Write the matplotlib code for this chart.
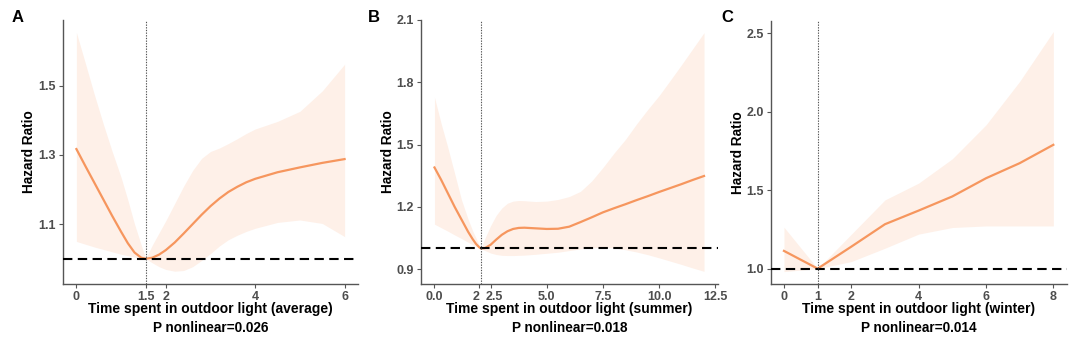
import matplotlib
matplotlib.use('Agg')
from matplotlib import pyplot as plt
from matplotlib.transforms import ScaledTranslation
import numpy as np

plt.rcParams['font.family'] = ['Liberation Sans', 'DejaVu Sans']
plt.rcParams['font.weight'] = 'bold'

# panel A: average outdoor light
a_x = [0, 0.2, 0.4, 0.6, 0.8, 1.0, 1.15, 1.3, 1.45, 1.55, 1.7, 1.85, 2.0, 2.2, 2.4, 2.6, 2.8, 3.0, 3.2, 3.4, 3.6, 3.8, 4.0, 4.5, 5.0, 5.5, 6.0]
a_hr = [1.317, 1.268, 1.22, 1.172, 1.124, 1.078, 1.045, 1.018, 1.003, 1.0, 1.003, 1.012, 1.025, 1.047, 1.073, 1.1, 1.127, 1.152, 1.174, 1.193, 1.208, 1.221, 1.231, 1.25, 1.264, 1.277, 1.288]
a_hi = [1.654, 1.565, 1.475, 1.39, 1.31, 1.235, 1.17, 1.1, 1.04, 1.0, 1.04, 1.075, 1.11, 1.16, 1.21, 1.255, 1.29, 1.31, 1.32, 1.333, 1.347, 1.362, 1.375, 1.397, 1.426, 1.485, 1.562]
a_lo = [1.05, 1.042, 1.034, 1.027, 1.02, 1.013, 1.009, 1.005, 1.002, 1.0, 0.988, 0.977, 0.969, 0.964, 0.966, 0.977, 0.995, 1.015, 1.037, 1.055, 1.068, 1.079, 1.088, 1.105, 1.112, 1.102, 1.064]

# panel B: summer
b_x = [0, 0.3, 0.6, 0.9, 1.2, 1.5, 1.7, 1.85, 2.0, 2.07, 2.25, 2.5, 2.75, 3.0, 3.25, 3.5, 3.75, 4.0, 4.5, 5.0, 5.5, 6.0, 6.5, 7.0, 7.5, 8.0, 8.5, 9.0, 9.5, 10.0, 10.5, 11.0, 11.5, 12.0]
b_hr = [1.39, 1.33, 1.265, 1.2, 1.14, 1.08, 1.045, 1.022, 1.005, 1.0, 1.002, 1.018, 1.043, 1.066, 1.083, 1.094, 1.099, 1.1, 1.097, 1.094, 1.095, 1.105, 1.127, 1.15, 1.174, 1.194, 1.213, 1.233, 1.252, 1.272, 1.291, 1.31, 1.33, 1.349]
b_hi = [1.728, 1.6, 1.484, 1.36, 1.235, 1.14, 1.085, 1.05, 1.015, 1.0, 1.05, 1.11, 1.16, 1.195, 1.218, 1.228, 1.231, 1.23, 1.226, 1.228, 1.236, 1.25, 1.275, 1.325, 1.39, 1.46, 1.525, 1.6, 1.67, 1.736, 1.81, 1.885, 1.962, 2.039]
b_lo = [1.117, 1.1, 1.083, 1.065, 1.048, 1.03, 1.018, 1.01, 1.003, 1.0, 0.99, 0.978, 0.971, 0.967, 0.966, 0.966, 0.967, 0.968, 0.972, 0.977, 0.982, 0.99, 0.998, 1.004, 1.006, 1.002, 0.994, 0.983, 0.97, 0.955, 0.939, 0.923, 0.906, 0.89]

# panel C: winter
c_x = [0, 1, 2, 3, 4, 5, 6, 7, 8]
c_hr = [1.113, 1.0, 1.14, 1.283, 1.37, 1.46, 1.576, 1.672, 1.789]
c_hi = [1.264, 1.0, 1.219, 1.438, 1.545, 1.70, 1.916, 2.193, 2.511]
c_lo = [0.981, 1.0, 1.045, 1.13, 1.22, 1.262, 1.272, 1.272, 1.272]

panels = [
    dict(tag='A', x=a_x, hr=a_hr, hi=a_hi, lo=a_lo, ref=1.55,
         xticks=[0, 1.55, 2, 4, 6], xlabels=['0', '1.5', '2', '4', '6'],
         yticks=[1.1, 1.3, 1.5], ylabels=['1.1', '1.3', '1.5'],
         xlim=(-0.3, 6.3), ylim=(0.927, 1.69), nudge={},
         xlab='Time spent in outdoor light (average)', p='P nonlinear=0.026',
         box=[63, 358, 20, 284], tagx=12, ylabx=29),
    dict(tag='B', x=b_x, hr=b_hr, hi=b_hi, lo=b_lo, ref=2.07,
         xticks=[0, 2.0, 2.5, 5, 7.5, 10, 12.5], xlabels=['0.0', '2', '2.5', '5.0', '7.5', '10.0', '12.5'],
         yticks=[0.9, 1.2, 1.5, 1.8, 2.1], ylabels=['0.9', '1.2', '1.5', '1.8', '2.1'],
         xlim=(-0.6, 12.6), ylim=(0.829, 2.1), nudge={1: -3, 2: 4},
         xlab='Time spent in outdoor light (summer)', p='P nonlinear=0.018',
         box=[421, 717.5, 20, 284], tagx=368, ylabx=388),
    dict(tag='C', x=c_x, hr=c_hr, hi=c_hi, lo=c_lo, ref=1,
         xticks=[0, 1, 2, 4, 6, 8], xlabels=['0', '1', '2', '4', '6', '8'],
         yticks=[1.0, 1.5, 2.0, 2.5], ylabels=['1.0', '1.5', '2.0', '2.5'],
         xlim=(-0.4, 8.4), ylim=(0.902, 2.58), nudge={},
         xlab='Time spent in outdoor light (winter)', p='P nonlinear=0.014',
         box=[770.5, 1066.8, 20.7, 284], tagx=721, ylabx=738),
]

W, H = 1080, 343
fig = plt.figure(figsize=(W / 100, H / 100), dpi=100)

line_col = '#F6965E'
band_col = '#FEF0E8'
tick_col = '#4D4D4D'

for p in panels:
    l, r, t, b = p['box']
    ax = fig.add_axes([l / W, (H - b) / H, (r - l) / W, (b - t) / H])
    ax.fill_between(p['x'], p['lo'], p['hi'], color=band_col, lw=0, zorder=1)
    ax.plot(p['x'], p['hr'], color=line_col, lw=1.6, zorder=3, solid_joinstyle='round')
    ax.axhline(1.0, color='black', lw=1.5, linestyle=(0, (4.5, 2.6)), zorder=4)
    ax.axvline(p['ref'], color='#555555', lw=0.8, linestyle=(0, (1.2, 1.2)), zorder=4)

    ax.set_xlim(*p['xlim'])
    ax.set_ylim(*p['ylim'])
    ax.set_xticks(p['xticks'])
    ax.set_xticklabels(p['xlabels'])
    ax.set_yticks(p['yticks'])
    ax.set_yticklabels(p['ylabels'])
    ax.tick_params(colors='#555555', labelcolor=tick_col, labelsize=9, length=3, width=0.8, pad=2)
    for lab in ax.get_xticklabels() + ax.get_yticklabels():
        lab.set_fontweight('bold')
    # pull apart the crowded labels next to the reference line
    xlabs = ax.get_xticklabels()
    for i, dx in p['nudge'].items():
        xlabs[i].set_transform(xlabs[i].get_transform() + ScaledTranslation(dx / 100, 0, fig.dpi_scale_trans))

    for s in ['top', 'right']:
        ax.spines[s].set_visible(False)
    for s in ['left', 'bottom']:
        ax.spines[s].set_color('#555555')
        ax.spines[s].set_linewidth(1.0)

    cx = (l + r) / 2 / W
    fig.text(cx, 1 - 309 / H, p['xlab'], ha='center', va='center', fontsize=10, fontweight='bold')
    fig.text(cx, 1 - 328 / H, p['p'], ha='center', va='center', fontsize=9.8, fontweight='bold')
    fig.text(p['ylabx'] / W, 1 - (t + b) / 2 / H, 'Hazard Ratio', rotation=90,
             ha='center', va='center', fontsize=9.8, fontweight='bold')
    fig.text(p['tagx'] / W, 1 - 17 / H, p['tag'], ha='left', va='center', fontsize=12, fontweight='bold')

fig.savefig('out.png', dpi=100, facecolor='white')
